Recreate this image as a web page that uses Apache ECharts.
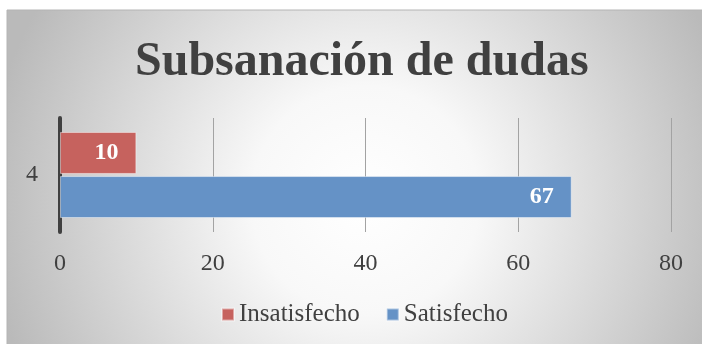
<!DOCTYPE html>
<html>
<head>
<meta charset="utf-8">
<script src="https://cdn.jsdelivr.net/npm/echarts@6/dist/echarts.min.js"></script>
<style>
  html, body { margin: 0; padding: 0; background: #ffffff; }
  #chart { width: 702px; height: 344px; }
</style>
</head>
<body>
<div id="chart"></div>
<script>
// Survey result: clearing up doubts
const chartTitle = 'Subsanación de dudas';
const categories = ['4'];
const seriesNames = ['Insatisfecho', 'Satisfecho'];
const insatisfecho = [10];
const satisfecho = [67];
const xTicks = { min: 0, max: 80, interval: 20 };

const serif = 'Liberation Serif';
const textColor = '#404040';
const colors = ['#c6625e', '#6592c6'];

const chart = echarts.init(document.getElementById('chart'), null, { renderer: 'canvas' });

const option = {
  animation: false,
  textStyle: { fontFamily: serif },
  graphic: [{
    type: 'rect',
    z: -10,
    silent: true,
    shape: { x: 7, y: 10, width: 720, height: 360 },
    style: {
      fill: new echarts.graphic.RadialGradient(365, 200, 380, [
        { offset: 0, color: '#ffffff' },
        { offset: 0.3, color: '#f8f8f8' },
        { offset: 1, color: '#bababa' }
      ], true),
      stroke: '#b4b4b4',
      lineWidth: 1
    }
  }],
  title: {
    text: chartTitle,
    left: 135,
    top: 39,
    padding: 0,
    textStyle: {
      fontFamily: serif,
      fontWeight: 'bold',
      fontSize: 48,
      color: textColor
    }
  },
  legend: {
    data: seriesNames,
    left: 221,
    top: 302,
    padding: 0,
    itemWidth: 12,
    itemHeight: 12,
    itemGap: 26,
    icon: 'rect',
    textStyle: { fontFamily: serif, fontSize: 25, color: textColor }
  },
  grid: { left: 60, right: 31, top: 118, bottom: 112, containLabel: false },
  xAxis: {
    type: 'value',
    min: xTicks.min,
    max: xTicks.max,
    interval: xTicks.interval,
    axisLine: { show: false },
    axisTick: { show: false },
    axisLabel: { fontFamily: serif, fontSize: 24, color: textColor, margin: 20 },
    splitLine: { lineStyle: { color: '#a3a3a3', width: 1 } }
  },
  yAxis: {
    type: 'category',
    data: categories,
    axisLine: { show: true, lineStyle: { color: '#404040', width: 4 } },
    axisTick: { show: false },
    axisLabel: { fontFamily: serif, fontSize: 24, color: textColor, margin: 22 }
  },
  series: [
    {
      name: seriesNames[0],
      type: 'bar',
      data: insatisfecho,
      barWidth: 42,
      barGap: '5%',
      itemStyle: { color: colors[0], borderColor: 'rgba(255,255,255,0.45)', borderWidth: 1 },
      label: {
        show: true,
        position: 'insideRight',
        distance: 18,
        fontFamily: serif,
        fontWeight: 'bold',
        fontSize: 24,
        color: '#ffffff'
      }
    },
    {
      name: seriesNames[1],
      type: 'bar',
      data: satisfecho,
      barWidth: 42,
      barGap: '5%',
      itemStyle: { color: colors[1], borderColor: 'rgba(255,255,255,0.45)', borderWidth: 1 },
      label: {
        show: true,
        position: 'insideRight',
        distance: 18,
        fontFamily: serif,
        fontWeight: 'bold',
        fontSize: 24,
        color: '#ffffff'
      }
    }
  ]
};

chart.setOption(option);
</script>
</body>
</html>
